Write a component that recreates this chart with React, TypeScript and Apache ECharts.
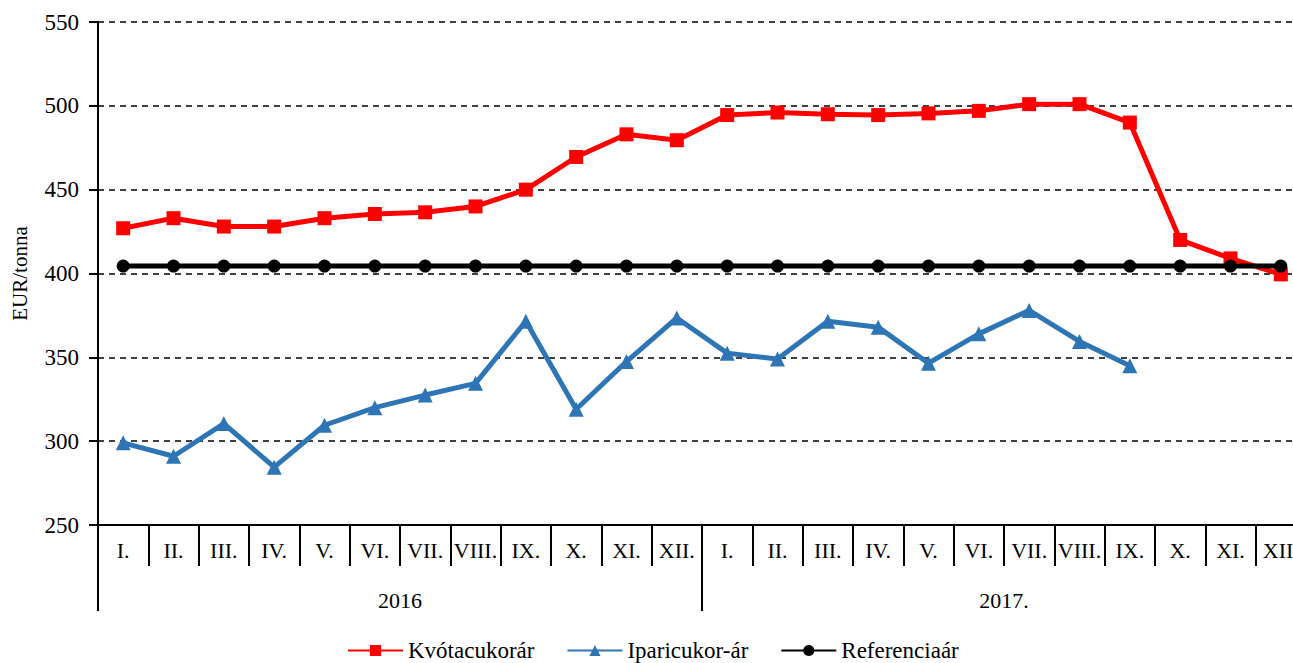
import React, { useEffect, useRef } from "react";
import * as echarts from "echarts";

const months = ["I.", "II.", "III.", "IV.", "V.", "VI.", "VII.", "VIII.", "IX.", "X.", "XI.", "XII.",
  "I.", "II.", "III.", "IV.", "V.", "VI.", "VII.", "VIII.", "IX.", "X.", "XI.", "XII."];
const years = ["2016", "2017."];
const kvota = [427, 433, 428, 428, 433, 435.5, 436.5, 440, 450, 469.5, 483, 479.5,
  494.5, 496, 495, 494.5, 495.5, 497, 501, 501, 490, 420, 409, 399.5];
const ipari = [299, 291, 310.5, 284.5, 309.5, 320, 327.5, 334.5, 371.5, 319, 347.5, 373.5,
  352.5, 349, 371.5, 368, 346.5, 364, 378, 359.5, 345, null, null, null];
const referencia = months.map(() => 404.4);
const yTicks = { min: 250, max: 550, interval: 50 };

const FONT = "Liberation Serif";

export default function App() {
  const ref = useRef<HTMLDivElement>(null);
  useEffect(() => {
    if (!ref.current) return;
    const chart = echarts.init(ref.current, null, { renderer: "svg" });
    chart.setOption({
      animation: false,
      textStyle: { fontFamily: FONT, color: "#000" },
      grid: { left: 98, top: 22, width: 1208, height: 503, containLabel: false },
      legend: {
        left: 342,
        top: 634,
        itemWidth: 55,
        itemHeight: 14,
        itemGap: 32,
        textStyle: { fontFamily: FONT, fontSize: 23, color: "#000" },
        data: ["Kvótacukorár", "Iparicukor-ár", "Referenciaár"],
      },
      xAxis: [
        {
          type: "category",
          data: months,
          boundaryGap: true,
          position: "bottom",
          axisLine: { show: true, lineStyle: { color: "#000", width: 2 } },
          axisTick: { show: true, interval: 0, length: 41, lineStyle: { color: "#000", width: 2 } },
          axisLabel: { interval: 0, margin: 14, fontFamily: FONT, fontSize: 22, color: "#000" },
          splitLine: { show: false },
        },
        {
          type: "category",
          data: years,
          boundaryGap: true,
          position: "bottom",
          axisLine: { show: false },
          axisTick: { show: true, interval: 0, length: 86, lineStyle: { color: "#000", width: 2 } },
          axisLabel: { interval: 0, margin: 64, fontFamily: FONT, fontSize: 22, color: "#000" },
          splitLine: { show: false },
        },
      ],
      yAxis: {
        type: "value",
        min: yTicks.min,
        max: yTicks.max,
        interval: yTicks.interval,
        name: "EUR/tonna",
        nameLocation: "middle",
        nameGap: 68,
        nameRotate: 90,
        nameTextStyle: { fontFamily: FONT, fontSize: 21, color: "#000" },
        axisLine: { show: true, lineStyle: { color: "#000", width: 2 } },
        axisTick: { show: true, length: 9, lineStyle: { color: "#000", width: 2 } },
        axisLabel: { margin: 19, fontFamily: FONT, fontSize: 23, color: "#000" },
        splitLine: { show: true, lineStyle: { color: "#000", width: 1.5, type: [6, 5] } },
      },
      series: [
        {
          name: "Kvótacukorár",
          type: "line",
          data: kvota,
          symbol: "rect",
          symbolSize: 14,
          lineStyle: { color: "#ff0000", width: 5 },
          itemStyle: { color: "#ff0000" },
          z: 2,
        },
        {
          name: "Iparicukor-ár",
          type: "line",
          data: ipari,
          symbol: "triangle",
          symbolSize: 15,
          lineStyle: { color: "#2e75b6", width: 5 },
          itemStyle: { color: "#2e75b6" },
          z: 3,
        },
        {
          name: "Referenciaár",
          type: "line",
          data: referencia,
          symbol: "circle",
          symbolSize: 13,
          lineStyle: { color: "#000", width: 5 },
          itemStyle: { color: "#000" },
          z: 4,
        },
      ],
    });
    return () => chart.dispose();
  }, []);
  return (
    <div style={{ position: "absolute", left: 0, top: 0, width: 1293, height: 663, overflow: "hidden", background: "#fff" }}>
      <div ref={ref} style={{ width: 1320, height: 663 }} />
    </div>
  );
}
